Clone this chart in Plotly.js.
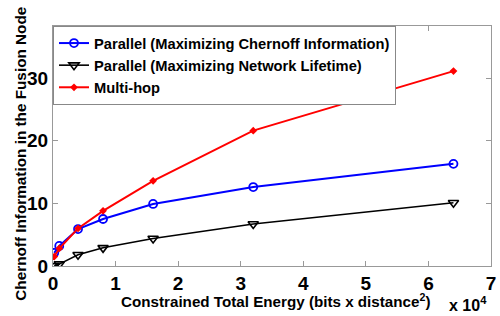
<!DOCTYPE html>
<html><head><meta charset="utf-8">
<script src="https://cdn.plot.ly/plotly-3.0.1.min.js"></script>
<style>html,body{margin:0;padding:0;background:#fff}#plot{width:500px;height:316px}</style>
</head><body><div id="plot"></div>
<script>
var energy = [200, 1000, 4000, 8000, 16000, 32000, 64000];
var chernoffParallel = [2.1, 3.2, 5.9, 7.5, 9.9, 12.6, 16.3];
var lifetimeParallel = [0.0, 0.3, 1.8, 2.9, 4.4, 6.7, 10.1];
var multiHop = [1.5, 2.8, 6.0, 8.8, 13.6, 21.6, 31.1];
var names = ['Parallel (Maximizing Chernoff Information)', 'Parallel (Maximizing Network Lifetime)', 'Multi-hop'];
var xTicks = [0, 10000, 20000, 30000, 40000, 50000, 60000, 70000];
var xTickLabels = ['0', '1', '2', '3', '4', '5', '6', '7'];
var yTicks = [0, 10, 20, 30];
var xTitle = 'Constrained Total Energy (bits x distance<sup>2</sup>)';
var yTitle = 'Chernoff Information in the Fusion Node';
var xScale = 'x 10<sup>4</sup>';

var F = 'Liberation Sans, Arial, sans-serif';
var traces = [
  {x: energy, y: chernoffParallel, name: names[0], mode: 'lines+markers', type: 'scatter',
   line: {color: '#0000ff', width: 2}, marker: {symbol: 'circle-open', size: 8, color: '#0000ff', line: {width: 1.8}}},
  {x: energy, y: lifetimeParallel, name: names[1], mode: 'lines+markers', type: 'scatter',
   line: {color: '#000000', width: 1.6}, marker: {symbol: 'triangle-down-open', size: 9, color: '#000000', line: {width: 1.6}}},
  {x: energy, y: multiHop, name: names[2], mode: 'lines+markers', type: 'scatter',
   line: {color: '#ff0000', width: 2}, marker: {symbol: 'diamond', size: 6, color: '#ff0000'}}
];
var axisCommon = {showline: true, mirror: 'ticks', linecolor: '#999', linewidth: 1, ticks: 'inside', ticklen: 5, tickcolor: '#999',
  showgrid: false, zeroline: false, tickfont: {family: F, size: 19, color: '#000', weight: 'bold'}};
var layout = {
  width: 500, height: 316, margin: {l: 53, r: 9, t: 26, b: 50},
  paper_bgcolor: '#fff', plot_bgcolor: '#fff', showlegend: true,
  xaxis: Object.assign({}, axisCommon, {range: [0, 70000], tickvals: xTicks, ticktext: xTickLabels}),
  yaxis: Object.assign({}, axisCommon, {range: [0, 38.3], tickvals: yTicks}),
  legend: {x: 0, y: 1, xanchor: 'left', yanchor: 'top', bgcolor: '#fff', bordercolor: '#888', borderwidth: 1,
    font: {family: F, size: 14.7, color: '#000', weight: 'bold'}, tracegroupgap: 0, itemwidth: 30},
  annotations: [
    {xref: 'paper', yref: 'paper', x: 0.508, y: -0.142, xanchor: 'center', yanchor: 'middle', showarrow: false,
     text: '<b>' + xTitle + '</b>', font: {family: F, size: 15.2, color: '#000'}},
    {xref: 'paper', yref: 'paper', x: -0.073, y: 0.468, xanchor: 'center', yanchor: 'middle', showarrow: false, textangle: -90,
     text: '<b>' + yTitle + '</b>', font: {family: F, size: 15.3, color: '#000'}},
    {xref: 'paper', yref: 'paper', x: 0.995, y: -0.158, xanchor: 'right', yanchor: 'middle', showarrow: false,
     text: '<b>' + xScale + '</b>', font: {family: F, size: 16, color: '#000'}}
  ]
};
Plotly.newPlot('plot', traces, layout, {displayModeBar: false, staticPlot: true});
</script></body></html>
